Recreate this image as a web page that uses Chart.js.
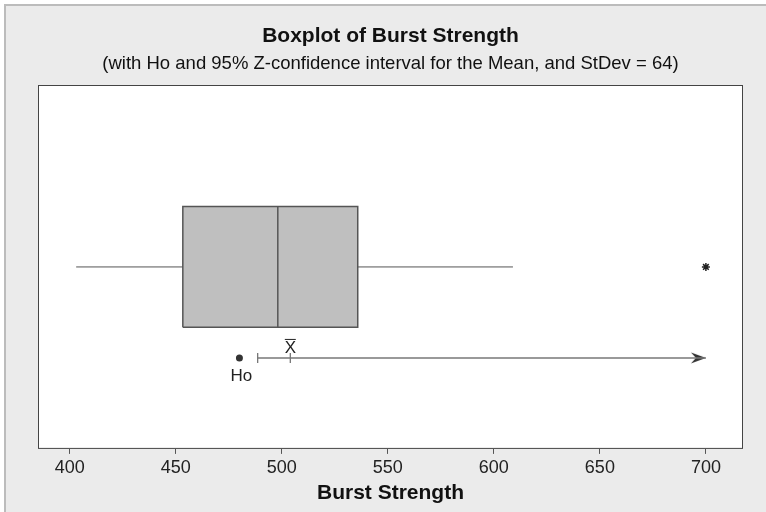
<!DOCTYPE html>
<html>
<head>
<meta charset="utf-8">
<script src="https://cdn.jsdelivr.net/npm/chart.js@4.4.0/dist/chart.umd.min.js"></script>
<style>
  body { margin: 0; background: #fff; }
  canvas { display: block; }
</style>
</head>
<body>
<canvas id="burst_chart" width="766" height="512"></canvas>
<script>
// values
const boxStats = [403, 453.3, 498.1, 535.8, 609]; // whisker low, Q1, median, Q3, whisker high
const outliers = [700];
const hoValue = [480];
const meanValue = [504];
const ciBounds = [488.6, 700]; // lower bound, arrow end
const xTicks = [400, 450, 500, 550, 600, 650, 700];

// rows on the hidden vertical scale
const boxRow = 50;
const boxHalf = 16.6;
const ciRow = 25;

const font = "'Liberation Sans', Arial, sans-serif";

const [wLo, q1, med, q3, wHi] = boxStats;

// open arrow head used as the point style at the end of the interval
const arrowHead = document.createElement('canvas');
arrowHead.width = 34;
arrowHead.height = 14;
(() => {
  const c = arrowHead.getContext('2d');
  c.fillStyle = '#333';
  c.beginPath();
  c.moveTo(2, 1.5);
  c.lineTo(17, 7);
  c.lineTo(2, 12.5);
  c.lineTo(7, 7);
  c.closePath();
  c.fill();
})();

const backdrop = {
  id: 'backdrop',
  beforeDraw(chart) {
    const { ctx, chartArea: a, width, height } = chart;
    ctx.save();
    ctx.fillStyle = '#ffffff';
    ctx.fillRect(0, 0, width, height);
    ctx.fillStyle = '#ebebeb';
    ctx.fillRect(5, 5, width - 5, height - 5);
    ctx.fillStyle = '#bcbcbc';
    ctx.fillRect(4, 4, width - 4, 2);
    ctx.fillRect(4, 4, 2, height - 4);
    ctx.fillStyle = '#ffffff';
    ctx.fillRect(a.left, a.top, a.right - a.left, a.bottom - a.top);
    ctx.restore();
  },
  afterDatasetsDraw(chart) {
    const { ctx, chartArea: a, scales } = chart;
    ctx.save();
    ctx.strokeStyle = '#444';
    ctx.lineWidth = 1;
    ctx.strokeRect(a.left + 0.5, a.top + 0.5, a.right - a.left - 1, a.bottom - a.top - 1);

    const yc = scales.y.getPixelForValue(ciRow);
    ctx.fillStyle = '#222';
    ctx.font = '17px ' + font;
    ctx.textAlign = 'center';
    ctx.textBaseline = 'alphabetic';

    const hx = scales.x.getPixelForValue(hoValue[0]);
    ctx.fillText('Ho', hx + 2, yc + 23.5);

    const mx = scales.x.getPixelForValue(meanValue[0]);
    ctx.fillText('X', mx, yc - 4.5);
    ctx.strokeStyle = '#222';
    ctx.beginPath();
    ctx.moveTo(mx - 5.5, yc - 18.5);
    ctx.lineTo(mx + 5.5, yc - 18.5);
    ctx.stroke();
    ctx.restore();
  }
};

const lineStyle = {
  type: 'line',
  showLine: true,
  pointRadius: 0,
  fill: false,
  tension: 0,
  order: 0
};

new Chart(document.getElementById('burst_chart'), {
  type: 'scatter',
  data: {
    datasets: [
      {
        ...lineStyle,
        label: 'box',
        order: 1, // drawn first, under the median
        data: [
          { x: q1, y: boxRow - boxHalf }, { x: q3, y: boxRow - boxHalf },
          { x: q3, y: boxRow + boxHalf }, { x: q1, y: boxRow + boxHalf },
          { x: q1, y: boxRow - boxHalf }
        ],
        fill: 'shape',
        backgroundColor: '#bfbfbf',
        borderColor: '#555',
        borderWidth: 1.5
      },
      {
        ...lineStyle,
        label: 'median',
        data: [{ x: med, y: boxRow - boxHalf }, { x: med, y: boxRow + boxHalf }],
        borderColor: '#555',
        borderWidth: 1.5
      },
      {
        ...lineStyle,
        label: 'lower whisker',
        data: [{ x: wLo, y: boxRow }, { x: q1, y: boxRow }],
        borderColor: '#555',
        borderWidth: 1
      },
      {
        ...lineStyle,
        label: 'upper whisker',
        data: [{ x: q3, y: boxRow }, { x: wHi, y: boxRow }],
        borderColor: '#555',
        borderWidth: 1
      },
      {
        label: 'outliers',
        data: outliers.map(v => ({ x: v, y: boxRow })),
        pointStyle: 'star',
        pointRadius: 4,
        borderColor: '#222',
        borderWidth: 1.5
      },
      {
        ...lineStyle,
        label: 'interval',
        data: ciBounds.map(v => ({ x: v, y: ciRow })),
        borderColor: '#777',
        borderWidth: 1.5
      },
      {
        label: 'interval ticks',
        data: [ciBounds[0], meanValue[0]].map(v => ({ x: v, y: ciRow })),
        pointStyle: 'line',
        rotation: 90,
        pointRadius: 5,
        borderColor: '#777',
        borderWidth: 1.3
      },
      {
        label: 'arrow',
        data: [{ x: ciBounds[1], y: ciRow }],
        pointStyle: arrowHead,
        pointRadius: 8
      },
      {
        label: 'Ho',
        data: hoValue.map(v => ({ x: v, y: ciRow })),
        pointStyle: 'circle',
        pointRadius: 3.5,
        backgroundColor: '#333',
        borderColor: '#333',
        borderWidth: 0
      }
    ]
  },
  options: {
    responsive: false,
    animation: false,
    layout: {
      padding: { left: 38, right: 23, top: 0, bottom: 0 }
    },
    plugins: {
      legend: { display: false },
      tooltip: { enabled: false },
      title: {
        display: true,
        text: 'Boxplot of Burst Strength',
        color: '#111',
        font: { family: font, size: 21, weight: 'bold', lineHeight: 1.2 },
        padding: { top: 24, bottom: 0 }
      },
      subtitle: {
        display: true,
        text: '(with Ho and 95% Z-confidence interval for the Mean, and StDev = 64)',
        color: '#111',
        font: { family: font, size: 18.5, lineHeight: 1.2 },
        padding: { top: 3.7, bottom: 9.9 }
      }
    },
    scales: {
      x: {
        type: 'linear',
        min: 385,
        max: 717.5,
        afterBuildTicks: (scale) => {
          scale.ticks = xTicks.map(v => ({ value: v }));
        },
        ticks: {
          includeBounds: false,
          padding: 3,
          color: '#222',
          font: { family: font, size: 18 }
        },
        grid: {
          display: true,
          drawOnChartArea: false,
          drawTicks: true,
          tickLength: 5,
          color: '#555'
        },
        border: { display: false },
        title: {
          display: true,
          text: 'Burst Strength',
          color: '#111',
          font: { family: font, size: 21, weight: 'bold', lineHeight: 1.0 },
          padding: { top: 1, bottom: 8.5 }
        }
      },
      y: {
        type: 'linear',
        display: false,
        min: 0,
        max: 100
      }
    }
  },
  plugins: [backdrop]
});
</script>
</body>
</html>
